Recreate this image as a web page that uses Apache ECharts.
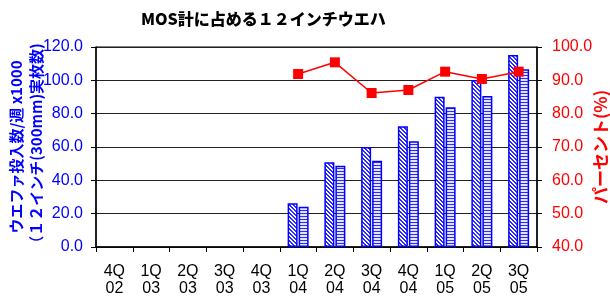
<!DOCTYPE html>
<html>
<head>
<meta charset="utf-8">
<script src="https://cdn.jsdelivr.net/npm/echarts@6/dist/echarts.min.js"></script>
<style>
html,body{margin:0;padding:0;background:#fff;}
#c{width:610px;height:299px;}
</style>
</head>
<body>
<div id="c"></div>
<script>
var categories = ['4Q\n02','1Q\n03','2Q\n03','3Q\n03','4Q\n03','1Q\n04','2Q\n04','3Q\n04','4Q\n04','1Q\n05','2Q\n05','3Q\n05'];
var mosTotal = [null, null, null, null, null, 26.2, 50.8, 60.0, 72.4, 90.2, 100.2, 115.2];
var wafer12 = [null, null, null, null, null, 24.2, 48.8, 51.8, 63.4, 83.8, 90.6, 106.6];
var percent = [null, null, null, null, null, 91.9, 95.4, 86.2, 87.1, 92.6, 90.4, 92.6];
var leftTicks = {min: 0, max: 120, interval: 20};
var rightTicks = {min: 40, max: 100, interval: 10};

function diagPattern() {
  var c = document.createElement('canvas');
  c.width = 4; c.height = 4;
  var g = c.getContext('2d');
  g.fillStyle = '#ffffff'; g.fillRect(0, 0, 4, 4);
  g.fillStyle = '#2a2aff';
  for (var i = 0; i < 4; i++) {
    g.fillRect(i, i, 1, 1);
    g.fillRect((i + 1) % 4, i, 1, 1);
  }
  return c;
}
function horizPattern() {
  var c = document.createElement('canvas');
  c.width = 4; c.height = 3;
  var g = c.getContext('2d');
  g.fillStyle = '#e4e4ff'; g.fillRect(0, 0, 4, 3);
  g.fillStyle = '#2a2aff'; g.fillRect(0, 0, 4, 1);
  return c;
}

var chart = echarts.init(document.getElementById('c'));
var fontFam = '"Liberation Sans", Arial, "Noto Sans CJK JP", sans-serif';
var cjk = '"Noto Sans CJK JP", sans-serif';
chart.setOption({
  animation: false,
  backgroundColor: '#ffffff',
  title: {
    text: 'MOS計に占める１２インチウエハ',
    left: 136, top: 6,
    textStyle: {fontFamily: cjk, fontSize: 16, fontWeight: 900, color: '#000'}
  },
  grid: {left: 96, right: 73, top: 47, bottom: 52, containLabel: false, outerBoundsMode: 'none',
    show: true, borderColor: '#000', borderWidth: 1},
  xAxis: {
    type: 'category',
    data: categories,
    boundaryGap: true,
    axisLine: {show: true, lineStyle: {color: '#000', width: 1.5}},
    axisTick: {show: true, length: 5, lineStyle: {color: '#000'}},
    axisLabel: {fontFamily: fontFam, fontSize: 16, color: '#000', margin: 16, lineHeight: 17}
  },
  yAxis: [{
    type: 'value',
    min: leftTicks.min, max: leftTicks.max, interval: leftTicks.interval,
    name: 'ウエファ投入数/週 x1000\n（１２インチ(300mm)実枚数)',
    nameLocation: 'middle', nameRotate: 90, nameGap: 50, nameMoveOverlap: false,
    nameTextStyle: {fontFamily: cjk, fontSize: 15, fontWeight: 'bold', color: '#0000ff', lineHeight: 20},
    axisLine: {show: true, lineStyle: {color: '#000', width: 1.5}},
    axisTick: {show: true, length: 5, lineStyle: {color: '#000'}},
    axisLabel: {fontFamily: fontFam, fontSize: 16, color: '#0000ff', margin: 13,
      formatter: function (v) { return v.toFixed(1); }},
    splitLine: {show: true, lineStyle: {color: '#222', width: 1}}
  }, {
    type: 'value',
    position: 'right',
    min: rightTicks.min, max: rightTicks.max, interval: rightTicks.interval,
    name: 'パーセント(%)',
    nameLocation: 'middle', nameRotate: 90, nameGap: 55, nameMoveOverlap: false,
    nameTextStyle: {fontFamily: cjk, fontSize: 17, fontWeight: 'bold', color: '#ff0000'},
    axisLine: {show: true, lineStyle: {color: '#000', width: 1.5}},
    axisTick: {show: true, length: 5, lineStyle: {color: '#000'}},
    axisLabel: {fontFamily: fontFam, fontSize: 16, color: '#ff0000', margin: 15,
      formatter: function (v) { return v.toFixed(1); }},
    splitLine: {show: false}
  }],
  series: [{
    type: 'bar',
    data: mosTotal,
    barWidth: 10,
    barGap: '10%',
    itemStyle: {color: {image: diagPattern(), repeat: 'repeat'}, borderColor: '#0000ff', borderWidth: 1.5}
  }, {
    type: 'bar',
    data: wafer12,
    barWidth: 10,
    barGap: '10%',
    itemStyle: {color: {image: horizPattern(), repeat: 'repeat'}, borderColor: '#0000ff', borderWidth: 1.5}
  }, {
    type: 'line',
    yAxisIndex: 1,
    data: percent,
    symbol: 'rect',
    symbolSize: 10,
    lineStyle: {color: '#ff0000', width: 1.5},
    itemStyle: {color: '#ff0000'},
    z: 5
  }]
});
</script>
</body>
</html>
